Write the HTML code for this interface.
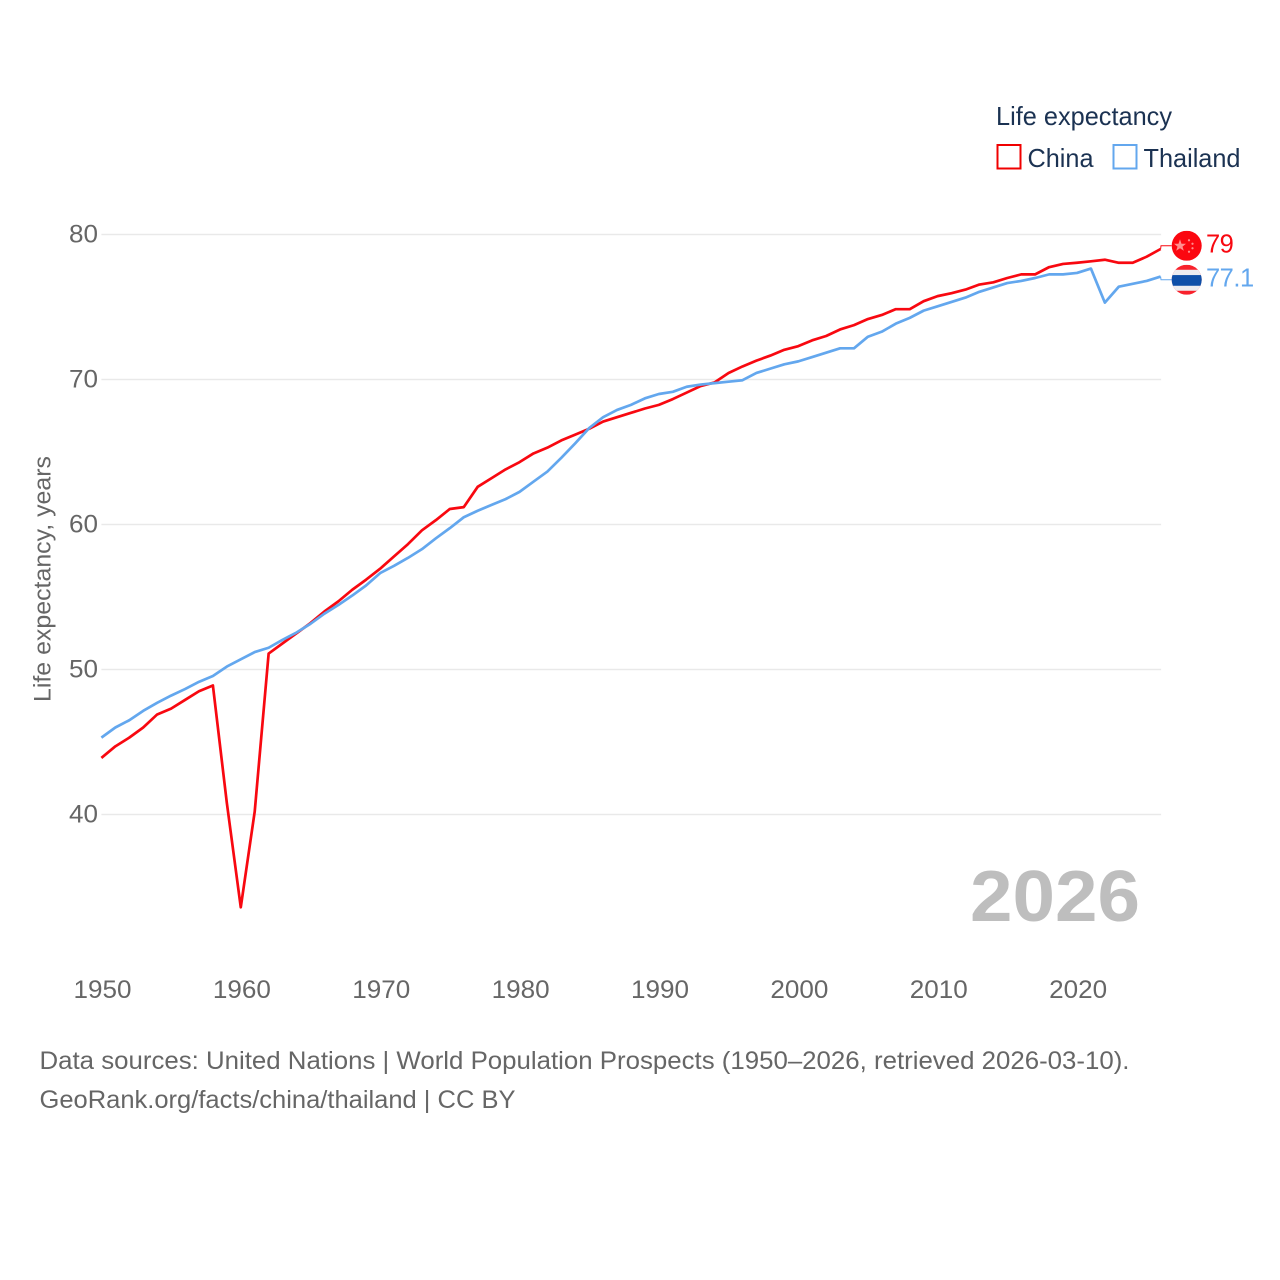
<!DOCTYPE html>
<html lang="en">
<head>
<meta charset="utf-8">
<title>Life expectancy: China and Thailand</title>
<style>
  html, body { margin: 0; padding: 0; background: #fff; }
  svg { display: block; font-family: "Liberation Sans", sans-serif; }
</style>
</head>
<body>
<svg id="chart" xmlns="http://www.w3.org/2000/svg" width="1280" height="1280" viewBox="0 0 1280 1280">
  <defs>
    <clipPath id="flag-clip-china"><circle id="clip-china" cx="1186.7" cy="245" r="15"></circle></clipPath>
    <clipPath id="flag-clip-thailand"><circle id="clip-thailand" cx="1186.7" cy="279" r="15"></circle></clipPath>
  </defs>

  <g id="grid"></g>
  <g id="y-ticks"></g>
  <g id="x-ticks"></g>

  <text transform="translate(50.5,579) rotate(-90)" text-anchor="middle" font-size="24" fill="#666" textLength="246" lengthAdjust="spacingAndGlyphs">Life expectancy, years</text>

  <g>
    <text x="996" y="125" font-size="26" fill="#1b3252" textLength="176" lengthAdjust="spacingAndGlyphs">Life expectancy</text>
    <rect x="997.5" y="145" width="23" height="23.5" fill="#fff" stroke="#f00000" stroke-width="2"></rect>
    <text x="1027.5" y="167" font-size="26" fill="#1b3252" textLength="66" lengthAdjust="spacingAndGlyphs">China</text>
    <rect x="1113.5" y="145" width="23" height="23.5" fill="#fff" stroke="#63a7ee" stroke-width="2"></rect>
    <text x="1143.5" y="167" font-size="26" fill="#1b3252" textLength="97" lengthAdjust="spacingAndGlyphs">Thailand</text>
  </g>

  <text x="970" y="921" font-size="76" font-weight="700" fill="#bebebe" textLength="170" lengthAdjust="spacingAndGlyphs" transform="translate(0,44.5) scale(1,0.9517)">2026</text>

  <path id="line-china" fill="none" stroke="#f80810" stroke-width="2.7" stroke-linejoin="round"></path>
  <path id="line-thailand" fill="none" stroke="#63a7ee" stroke-width="2.7" stroke-linejoin="round"></path>
  <path id="connector-china" fill="none" stroke="#f80810" stroke-width="1"></path>
  <path id="connector-thailand" fill="none" stroke="#63a7ee" stroke-width="1"></path>

  <g id="flag-china" clip-path="url(#flag-clip-china)">
    <rect id="flag-china-bg" x="1171" y="230" width="31" height="30" fill="#fb0710"></rect>
    <g id="flag-china-stars" fill="#ff8f8f">
      <polygon points="1180,238.5 1181.5,243 1186,243 1182.5,245.8 1183.8,250 1180,247.5 1176.2,250 1177.5,245.8 1174,243 1178.5,243"></polygon>
      <circle cx="1189" cy="239.5" r="1.1"></circle>
      <circle cx="1192.5" cy="243" r="1.1"></circle>
      <circle cx="1192.5" cy="247.5" r="1.1"></circle>
      <circle cx="1189" cy="251" r="1.1"></circle>
    </g>
  </g>
  <g id="flag-thailand" clip-path="url(#flag-clip-thailand)">
    <rect id="flag-th-red" x="1171" y="264" width="31" height="30" fill="#f8222c"></rect>
    <rect id="flag-th-white" x="1171" y="269" width="31" height="21" fill="#ececf0"></rect>
    <rect id="flag-th-blue" x="1171" y="274.3" width="31" height="10.7" fill="#0e4fa8"></rect>
  </g>

  <text id="value-china" x="1206" y="252" font-size="25.5" letter-spacing="-0.5" fill="#f80810"></text>
  <text id="value-thailand" x="1206" y="286" font-size="25.5" letter-spacing="-0.5" fill="#63a7ee"></text>

  <g>
    <text x="39.5" y="1069" font-size="25" fill="#666" textLength="1090" lengthAdjust="spacingAndGlyphs">Data sources: United Nations | World Population Prospects (1950–2026, retrieved 2026-03-10).</text>
    <text x="39.5" y="1108" font-size="25" fill="#666" textLength="476" lengthAdjust="spacingAndGlyphs">GeoRank.org/facts/china/thailand | CC BY</text>
  </g>
</svg>

<script>
const startYear = 1950;
const endYear = 2026;
const xTickLabels = [1950, 1960, 1970, 1980, 1990, 2000, 2010, 2020];
const yTickLabels = [40, 50, 60, 70, 80];
const chinaValues = [
  43.9, 44.7, 45.3, 46.0, 46.9, 47.3, 47.9, 48.5, 48.9, 40.8,
  33.6, 40.2, 51.1, 51.8, 52.5, 53.2, 54.0, 54.7, 55.5, 56.2,
  56.95, 57.8, 58.65, 59.6, 60.3, 61.07, 61.2, 62.6, 63.2, 63.8,
  64.3, 64.9, 65.3, 65.8, 66.2, 66.6, 67.1, 67.4, 67.7, 68.0,
  68.25, 68.65, 69.1, 69.55, 69.8, 70.45, 70.9, 71.3, 71.65, 72.05,
  72.3, 72.7, 73.0, 73.45, 73.75, 74.17, 74.45, 74.85, 74.85, 75.4,
  75.75, 75.95, 76.2, 76.55, 76.7, 77.0, 77.25, 77.25, 77.75, 77.97,
  78.05, 78.15, 78.26, 78.05, 78.05, 78.47, 79.0
];
const thailandValues = [
  45.3, 46.0, 46.5, 47.15, 47.7, 48.2, 48.65, 49.15, 49.55, 50.2,
  50.7, 51.2, 51.5, 52.05, 52.55, 53.15, 53.85, 54.45, 55.1, 55.8,
  56.65, 57.15, 57.7, 58.3, 59.05, 59.75, 60.5, 60.95, 61.35, 61.75,
  62.25, 62.95, 63.65, 64.6, 65.6, 66.65, 67.4, 67.9, 68.25, 68.7,
  69.0, 69.15, 69.5, 69.65, 69.75, 69.85, 69.95, 70.45, 70.75, 71.05,
  71.25, 71.55, 71.85, 72.15, 72.15, 72.95, 73.3, 73.85, 74.25, 74.75,
  75.05, 75.35, 75.65, 76.05, 76.35, 76.65, 76.8, 77.0, 77.25, 77.25,
  77.35, 77.65, 75.3, 76.4, 76.6, 76.8, 77.1
];
const chinaEndLabel = "79";
const thailandEndLabel = "77.1";

const SVG_NS = "http://www.w3.org/2000/svg";
const plotLeft = 101.4;
const plotRight = 1160.6;

function xScale(year) {
  return plotLeft + (year - startYear) * (plotRight - plotLeft) / (endYear - startYear);
}
function yScale(value) {
  return 814.5 - (value - 40) * 14.5;
}
function linePath(values) {
  return values.map(function (v, i) {
    return (i ? "L" : "M") + xScale(startYear + i).toFixed(2) + " " + yScale(v).toFixed(2);
  }).join("");
}

const gridGroup = document.getElementById("grid");
const yTickGroup = document.getElementById("y-ticks");
const xTickGroup = document.getElementById("x-ticks");

yTickLabels.forEach(function (tick) {
  const gridLine = document.createElementNS(SVG_NS, "line");
  
  
  gridLine.setAttribute("x1", plotLeft);
  gridLine.setAttribute("x2", plotRight + 0.5);
  gridLine.setAttribute("y1", yScale(tick));
  gridLine.setAttribute("y2", yScale(tick));
  gridLine.setAttribute("stroke", "#e9e9e9");
  gridLine.setAttribute("stroke-width", "1.4");
  gridGroup.appendChild(gridLine);

  const yLabel = document.createElementNS(SVG_NS, "text");
  
  
  yLabel.setAttribute("x", 98);
  yLabel.setAttribute("y", yScale(tick) + 8);
  yLabel.setAttribute("text-anchor", "end");
  yLabel.setAttribute("font-size", "25");
  yLabel.setAttribute("fill", "#666");
  yLabel.setAttribute("textLength", "29");
  yLabel.setAttribute("lengthAdjust", "spacingAndGlyphs");
  yLabel.textContent = tick;
  yTickGroup.appendChild(yLabel);
});

xTickLabels.forEach(function (tick) {
  const xLabel = document.createElementNS(SVG_NS, "text");
  
  
  xLabel.setAttribute("x", xScale(tick) + 1.1);
  xLabel.setAttribute("y", 998);
  xLabel.setAttribute("text-anchor", "middle");
  xLabel.setAttribute("font-size", "25");
  xLabel.setAttribute("fill", "#666");
  xLabel.setAttribute("textLength", "58");
  xLabel.setAttribute("lengthAdjust", "spacingAndGlyphs");
  xLabel.textContent = tick;
  xTickGroup.appendChild(xLabel);
});

document.getElementById("line-china").setAttribute("d", linePath(chinaValues));
document.getElementById("line-thailand").setAttribute("d", linePath(thailandValues));

// End labels: keep the two flags at least 34px apart around the series end points.
const chinaEndY = yScale(chinaValues[chinaValues.length - 1]);
const thaiEndY = yScale(thailandValues[thailandValues.length - 1]);
const minGap = 34;
const endMid = (chinaEndY + thaiEndY) / 2;
const chinaIsUpper = chinaEndY <= thaiEndY;
const needsPush = Math.abs(chinaEndY - thaiEndY) < minGap;
const chinaFlagY = needsPush ? endMid + (chinaIsUpper ? -minGap / 2 : minGap / 2) : chinaEndY;
const thaiFlagY = needsPush ? endMid + (chinaIsUpper ? minGap / 2 : -minGap / 2) : thaiEndY;

document.getElementById("connector-china").setAttribute("d",
  "M" + plotRight + " " + chinaEndY + "L1161 " + chinaFlagY + "L1171.5 " + chinaFlagY);
document.getElementById("connector-thailand").setAttribute("d",
  "M" + plotRight + " " + thaiEndY + "L1161 " + thaiFlagY + "L1171.5 " + thaiFlagY);

function placeFlag(groupId, clipId, flagY, baseY) {
  document.getElementById(clipId).setAttribute("cy", flagY);
  const group = document.getElementById(groupId);
  Array.prototype.forEach.call(group.children, function (child) {
    child.setAttribute("transform", "translate(0," + (flagY - baseY) + ")");
  });
}
placeFlag("flag-china", "clip-china", chinaFlagY, 245);
placeFlag("flag-thailand", "clip-thailand", thaiFlagY, 279);

const chinaValueText = document.getElementById("value-china");
chinaValueText.textContent = chinaEndLabel;
chinaValueText.setAttribute("y", chinaFlagY + 6.9);
const thaiValueText = document.getElementById("value-thailand");
thaiValueText.textContent = thailandEndLabel;
thaiValueText.setAttribute("y", thaiFlagY + 6.9);
</script>
</body>
</html>
